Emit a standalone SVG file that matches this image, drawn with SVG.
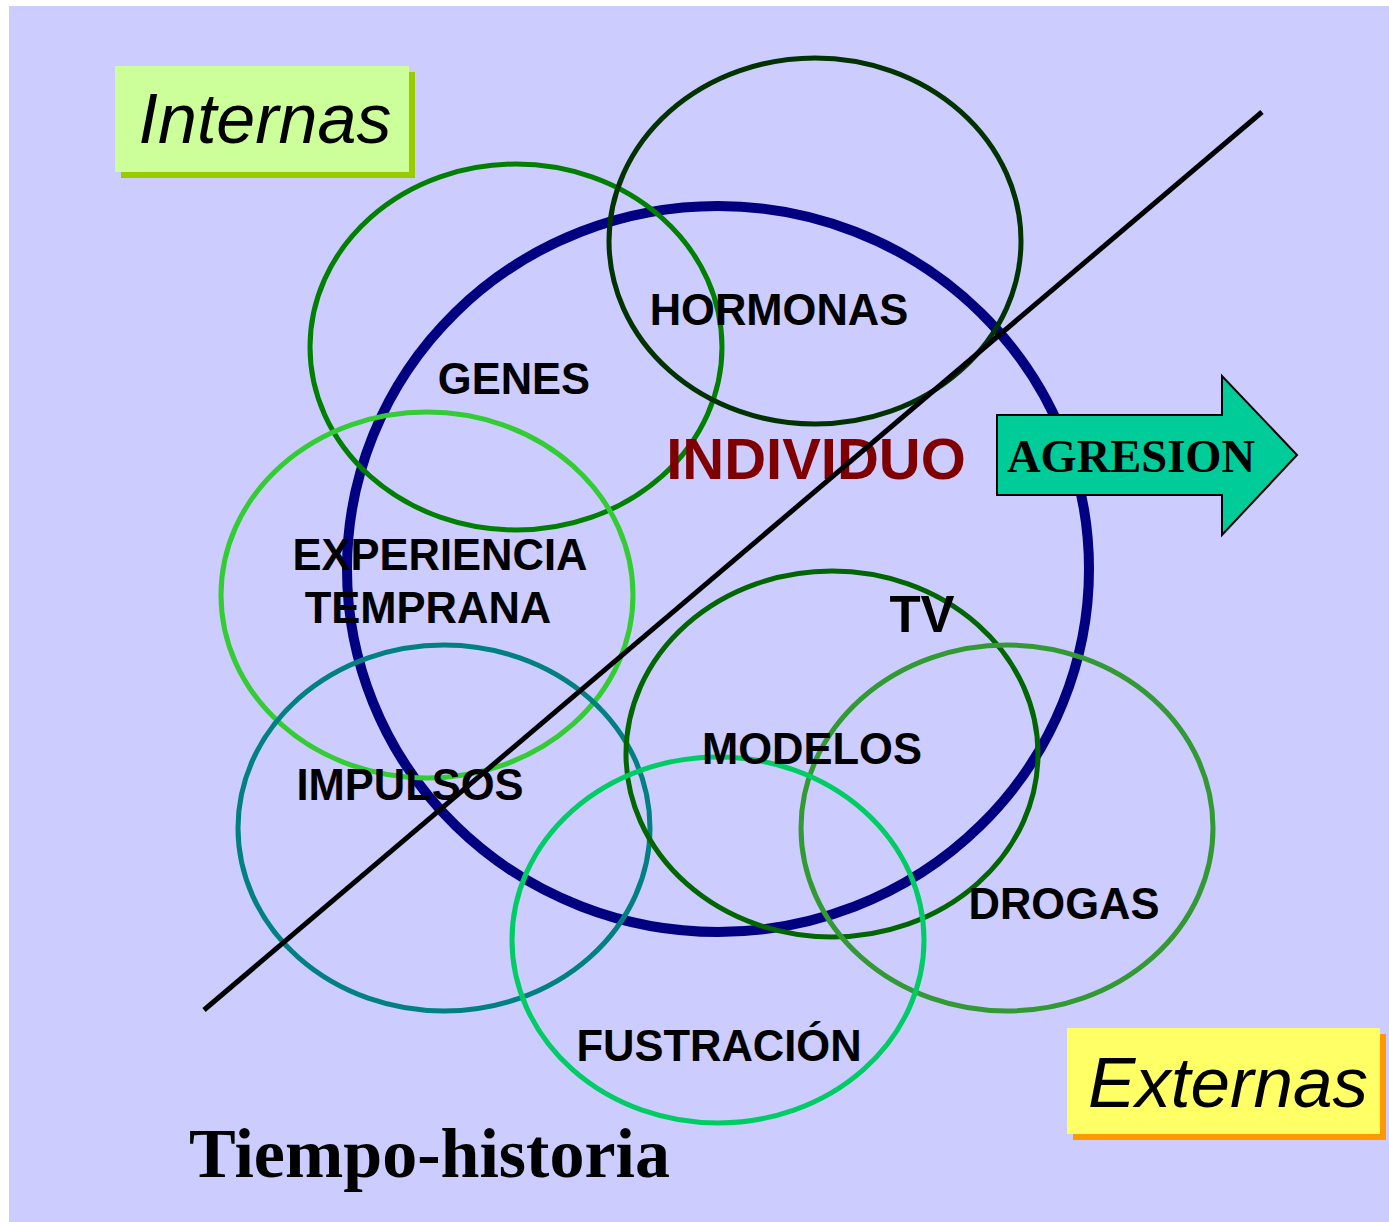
<svg xmlns="http://www.w3.org/2000/svg" width="1389" height="1222" viewBox="0 0 1389 1222">
  <style>
    .c { fill: none; stroke-width: 5; }
    .lbl { font-family: "Liberation Sans", Arial, sans-serif; font-weight: bold; font-size: 43.5px; fill: #000; text-anchor: middle; }
    .ital { font-family: "Liberation Sans", Arial, sans-serif; font-style: italic; fill: #000; }
    .serif { font-family: "Liberation Serif", "Times New Roman", serif; font-weight: bold; fill: #000; }
  </style>
  <rect x="0" y="0" width="1389" height="1222" fill="#ffffff"/>
  <rect x="9" y="6" width="1380" height="1216" fill="#CCCCFF"/>

  <g id="internas">
    <rect x="121" y="72" width="294" height="106" fill="#99CC00"/>
    <rect x="115" y="66" width="294" height="106" fill="#CCFF99"/>
    <text class="ital" x="265" y="143" font-size="70" text-anchor="middle">Internas</text>
  </g>

  <g id="individuo">
    <ellipse cx="718" cy="569" rx="371" ry="363" fill="none" stroke="#000080" stroke-width="10"/>
  </g>
  <g id="genes">
    <ellipse class="c" cx="516" cy="347" rx="206" ry="183" stroke="#008000"/>
  </g>
  <g id="hormonas">
    <ellipse class="c" cx="815" cy="241" rx="206" ry="183" stroke="#003300"/>
  </g>
  <g id="experiencia">
    <ellipse class="c" cx="427" cy="595" rx="206" ry="183" stroke="#33CC33"/>
  </g>
  <g id="impulsos">
    <ellipse class="c" cx="444" cy="828" rx="206" ry="183" stroke="#008080"/>
  </g>
  <g id="modelos">
    <ellipse class="c" cx="832" cy="754" rx="206" ry="183" stroke="#006600"/>
  </g>
  <g id="drogas">
    <ellipse class="c" cx="1007" cy="828" rx="206" ry="183" stroke="#339933"/>
  </g>
  <g id="fustracion">
    <ellipse class="c" cx="718" cy="940" rx="206" ry="183" stroke="#00CC66"/>
  </g>

  <g id="labels">
    <text class="lbl" x="514" y="394">GENES</text>
    <text class="lbl" x="779" y="325">HORMONAS</text>
    <text class="lbl" x="440" y="570">EXPERIENCIA</text>
    <text class="lbl" x="428" y="623">TEMPRANA</text>
    <text class="lbl" x="922" y="632" style="font-size:51px">TV</text>
    <text class="lbl" x="812" y="764">MODELOS</text>
    <text class="lbl" x="410" y="800">IMPULSOS</text>
    <text class="lbl" x="1064" y="919">DROGAS</text>
    <text class="lbl" x="719" y="1061">FUSTRACIÓN</text>
    <text class="lbl" x="816" y="479" style="font-size:58px;fill:#7F0000">INDIVIDUO</text>
  </g>

  <g id="agresion">
    <polygon points="997,415 1222,415 1222,376 1297,455 1222,535 1222,495 997,495" fill="#00CC99" stroke="#000" stroke-width="2"/>
    <text class="serif" x="1131" y="472" font-size="46.5" text-anchor="middle">AGRESION</text>
  </g>

  <g id="connectors">
    <line x1="204" y1="1010" x2="1262" y2="112" stroke="#000" stroke-width="5"/>
  </g>

  <g id="externas">
    <rect x="1073" y="1034" width="313" height="106" fill="#FF9900"/>
    <rect x="1067" y="1028" width="313" height="106" fill="#FFFF66"/>
    <text class="ital" x="1228" y="1107" font-size="71" text-anchor="middle">Externas</text>
  </g>

  <g id="tiempo">
    <text class="serif" x="189" y="1177" font-size="70">Tiempo-historia</text>
  </g>
</svg>
